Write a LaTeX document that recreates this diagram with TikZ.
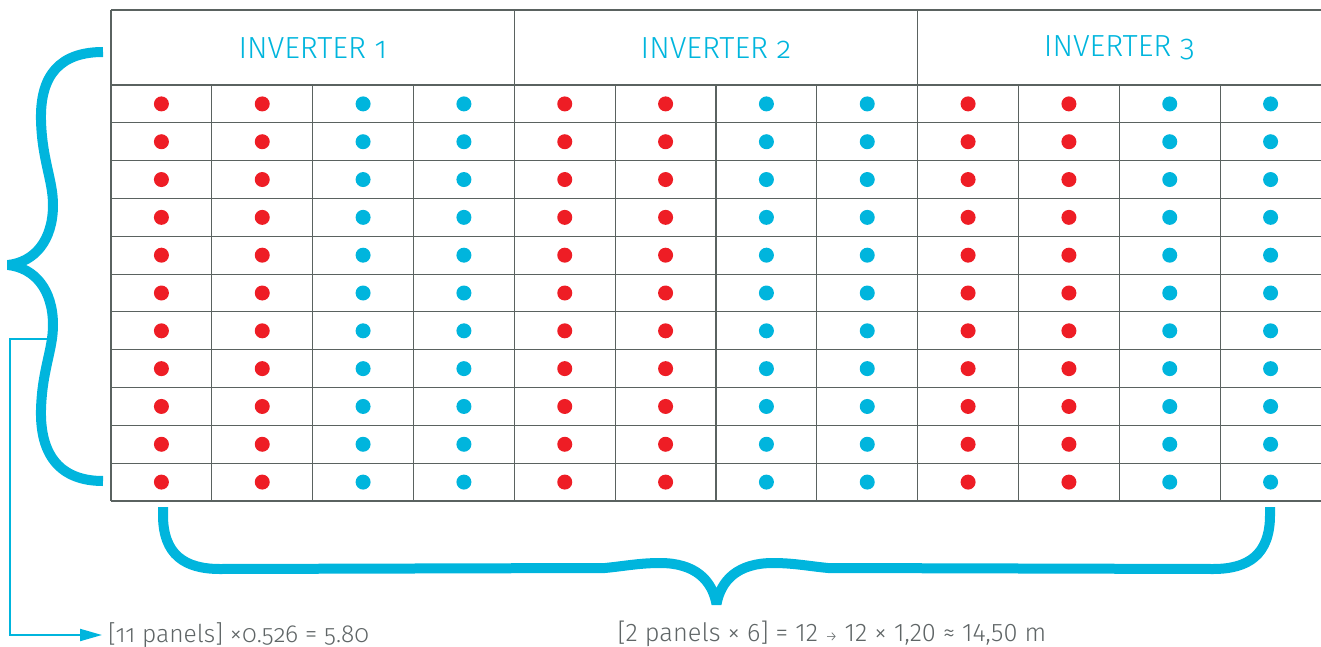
\documentclass[tikz,border=0pt]{standalone}
\usepackage{fontspec}
\setmainfont{Fira Sans Light}[Numbers=OldStyle]
\newfontfamily\lining{Fira Sans Light}[Numbers=Lining]
\usetikzlibrary{arrows.meta}
\definecolor{bluec}{HTML}{00B5DD}
\definecolor{redc}{HTML}{EE1D25}
\definecolor{gridc}{HTML}{5A6260}
\definecolor{textc}{HTML}{5F6566}
\begin{document}
\begin{tikzpicture}[x=1pt,y=-1pt,
  gridline/.style={draw=gridc,line width=1.1pt},
  dot/.style={circle,inner sep=0pt,minimum size=15pt},
  hdr/.style={text=bluec,font=\fontsize{30.5}{36}\selectfont,inner sep=0pt},
  lbl/.style={text=textc,font=\fontsize{24.6}{28}\selectfont,inner sep=0pt},
  bracebig/.style={draw=bluec,line width=10pt,line join=bevel},
  conn/.style={draw=bluec,line width=2pt,-{Triangle[length=22pt,width=12pt]}}]
\useasboundingbox (0,0) rectangle (1321,647);
% grid
\draw[gridline] (111,10) -- (1321,10);
\foreach \k in {0,...,11} \draw[gridline] (111,{85+37.818*\k}) -- (1321,{85+37.818*\k});
\draw[gridline] (111,10) -- (111,501);
\foreach \x in {514.33,917.67} \draw[gridline] (\x,10) -- (\x,85);
\foreach \k in {1,...,11} \draw[gridline] ({111+100.833*\k},85) -- ({111+100.833*\k},501);
% headers
\node[hdr] (inv1) at (312.7,48) {INVERTER 1};
\node[hdr] (inv2) at (716,48) {INVERTER 2};
\node[hdr] (inv3) at (1119.3,48) {INVERTER 3};
% dots
\foreach \i in {0,...,11}{
  \pgfmathtruncatemacro\m{mod(\i,4)}
  \ifnum\m<2 \def\dc{redc}\else\def\dc{bluec}\fi
  \foreach \j in {0,...,10}{
    \node[dot,fill=\dc] (dot-\i-\j) at ({111+100.833*(\i+0.5)},{85+37.818*(\j+0.5)}) {};
  }
}
% left brace
\draw[bracebig] (103,52) .. controls (60,52) and (40,75) .. (41,120)
  .. controls (42,160) and (53,180) .. (53,205)
  .. controls (53,240) and (35,262) .. (8,265)
  .. controls (35,268) and (53,290) .. (53,325)
  .. controls (53,350) and (42,370) .. (41,410)
  .. controls (40,455) and (60,481) .. (103,481);
% bottom brace
\draw[bracebig] (163,507) -- (163,515) .. controls (163,555) and (185,569) .. (220,569)
  -- (605,568) .. controls (625,566) and (640,563) .. (660,563)
  .. controls (695,563) and (712,580) .. (716.5,604)
  .. controls (721,580) and (738,563) .. (773,563)
  .. controls (793,563) and (808,566) .. (828,568)
  -- (1213,569) .. controls (1248,569) and (1270,555) .. (1270,515) -- (1270,507);
% labels
\node[lbl,anchor=west,inner xsep=6pt] (leftlbl) at (102,635) {[11 panels] ×0.526 = 5.80};
\node[lbl,font=\fontsize{25.4}{28}\selectfont\lining] (rightlbl) at (832,634) {[2 panels × 6] = 12 {\fontsize{14}{16}\selectfont→} 12 × 1,20 ≈ 14,50 m};
% connector
\coordinate (tap) at (48,339);
\draw[conn] (tap) -- (10,339) -- (10,635) -- (leftlbl.west);
\end{tikzpicture}
\end{document}
